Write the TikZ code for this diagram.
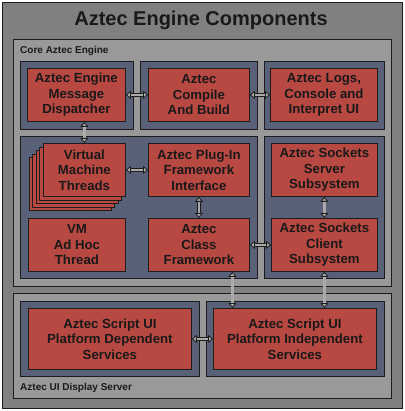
\documentclass[tikz,border=0pt]{standalone}
\usepackage{fontspec}
\setmainfont{Liberation Sans}
\usetikzlibrary{positioning,arrows.meta}
\definecolor{framegray}{RGB}{128,128,128}
\definecolor{panelgray}{RGB}{153,153,153}
\definecolor{groupblue}{RGB}{88,97,120}
\definecolor{compred}{RGB}{184,72,66}
\definecolor{linkgray}{RGB}{170,170,170}
\definecolor{edgedark}{RGB}{28,28,28}

\begin{document}
\begin{tikzpicture}[x=1pt,y=-1pt,
  box/.style = {draw=edgedark, line width=0.8pt, anchor=north west, inner sep=0pt},
  panel/.style = {box, fill=panelgray},
  grp/.style = {box, fill=groupblue},
  comp/.style = {box, fill=compred, text=black!90, align=center,
    font=\bfseries\fontsize{13.2}{15.5}\selectfont},
  lbl/.style = {anchor=base west, inner sep=0pt, text=black!90,
    font=\bfseries\fontsize{10}{12}\selectfont},
  link/.style = {draw=edgedark, line width=0.8pt, double=linkgray, double distance=2.2pt,
    {Triangle[length=5pt,width=8pt,fill=linkgray]}-{Triangle[length=5pt,width=8pt,fill=linkgray]}}]
\useasboundingbox (0,0) rectangle (404,411);

% outer frame and title
\node[box, fill=framegray, minimum width=400pt, minimum height=406pt] (frame) at (2,2) {};
\node[anchor=base, inner sep=0pt, text=black!90, font=\bfseries\fontsize{20}{22}\selectfont]
  (title) at (201,26) {Aztec Engine Components};

% core engine
\node[panel, minimum width=378pt, minimum height=247pt] (core) at (13,39) {};
\node[lbl] (corelbl) at (20,54) {Core Aztec Engine};
\node[grp, minimum width=113pt, minimum height=68pt] (g1) at (20,61) {};
\node[grp, minimum width=117pt, minimum height=68pt] (g2) at (140,61) {};
\node[grp, minimum width=120pt, minimum height=68pt] (g3) at (264,61) {};
\node[grp, minimum width=237pt, minimum height=142pt] (g4) at (20,136) {};
\node[grp, minimum width=120pt, minimum height=142pt] (g5) at (264,136) {};

\node[comp, minimum width=98pt, minimum height=53pt] (disp) at (27,68) {Aztec Engine\\Message\\Dispatcher};
\node[comp, minimum width=101pt, minimum height=53pt] (build) at (148,68) {Aztec\\Compile\\And Build};
\node[comp, minimum width=107pt, minimum height=53pt] (logs) at (270,68) {Aztec Logs,\\Console and\\Interpret UI};

% stacked threads
\foreach \i in {4,3,2,1}
  \node[comp, minimum width=82pt, minimum height=53pt] (vm\i) at (43-3.6*\i,143+3.6*\i) {};
\node[comp, minimum width=82pt, minimum height=53pt] (vm) at (43,143) {Virtual\\Machine\\Threads};
\node[comp, minimum width=101pt, minimum height=53pt] (plug) at (148,143) {Aztec Plug-In\\Framework\\Interface};
\node[comp, minimum width=97pt, minimum height=53pt] (adhoc) at (28,218) {VM\\Ad Hoc\\Thread};
\node[comp, minimum width=101pt, minimum height=53pt] (cls) at (148,218) {Aztec\\Class\\Framework};
\node[comp, minimum width=106pt, minimum height=53pt] (srv) at (271,143) {Aztec Sockets\\Server\\Subsystem};
\node[comp, minimum width=106pt, minimum height=53pt] (cli) at (271,218) {Aztec Sockets\\Client\\Subsystem};

% display server
\node[panel, minimum width=378pt, minimum height=105pt] (ui) at (13,293) {};
\node[lbl] (uilbl) at (20,390) {Aztec UI Display Server};
\node[grp, minimum width=179pt, minimum height=75pt] (g6) at (20,301) {};
\node[grp, minimum width=178pt, minimum height=75pt] (g7) at (206,301) {};
\node[comp, minimum width=163pt, minimum height=61pt] (uidep) at (28,308) {Aztec Script UI\\Platform Dependent\\Services};
\node[comp, minimum width=163pt, minimum height=61pt] (uiind) at (213,308) {Aztec Script UI\\Platform Independent\\Services};

% links
\draw[link] (disp.east) -- (build.west);
\draw[link] (build.east) -- (logs.west);
\draw[link] (vm.north |- disp.south) -- (vm.north);
\draw[link] (vm.east) -- (plug.west);
\draw[link] (plug.south) -- (cls.north);
\draw[link] (srv.south) -- (cli.north);
\draw[link] (cls.east) -- (cli.west);
\draw[link] ([xshift=33.5pt]cls.south) -- ([xshift=33.5pt]cls.south |- uiind.north);
\draw[link] (cli.south) -- (cli.south |- uiind.north);
\draw[link] (uidep.east) -- (uiind.west);
\end{tikzpicture}
\end{document}
